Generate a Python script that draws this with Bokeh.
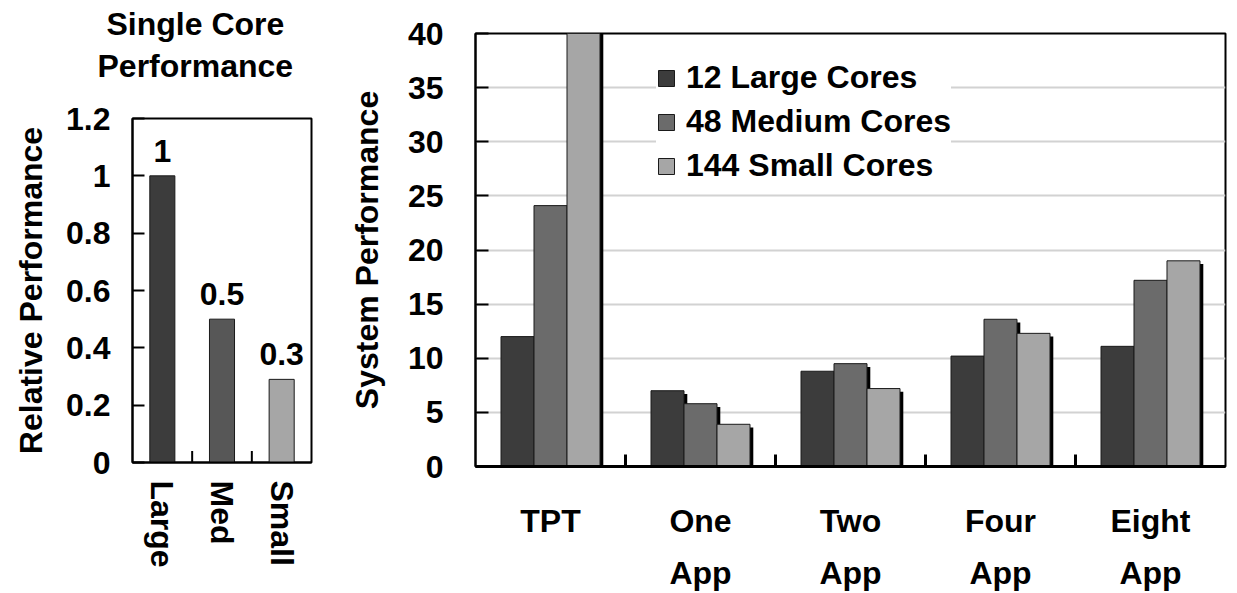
from bokeh.plotting import figure
from bokeh.layouts import row
from bokeh.models import (ColumnDataSource, FactorRange, Range1d, FixedTicker,
                          Title, Legend, LegendItem)
from bokeh.transform import dodge
from bokeh.core.properties import value
from bokeh.embed import file_html
from bokeh.resources import INLINE

FONT = "Liberation Sans"

# ---- data: single core performance ----
single_title = ["Single Core", "Performance"]
single_cores = ["Large", "Med", "Small"]
single_perf = [1.0, 0.5, 0.29]
single_perf_labels = ["1", "0.5", "0.3"]
single_colors = ["#3c3c3c", "#575757", "#a6a6a6"]
single_ticks = [0, 0.2, 0.4, 0.6, 0.8, 1.0, 1.2]
single_tick_labels = ["0", "0.2", "0.4", "0.6", "0.8", "1", "1.2"]

# ---- data: system performance ----
workloads = ["TPT", "One\nApp", "Two\nApp", "Four\nApp", "Eight\nApp"]
large_cores = [12.0, 7.0, 8.8, 10.2, 11.1]
medium_cores = [24.1, 5.8, 9.5, 13.6, 17.2]
small_cores = [40.5, 3.9, 7.2, 12.3, 19.0]
series_names = ["12 Large Cores", "48 Medium Cores", "144 Small Cores"]
series_colors = ["#3c3c3c", "#6b6b6b", "#a6a6a6"]
system_ticks = [0, 5, 10, 15, 20, 25, 30, 35, 40]


def style_axis(ax, size="32px"):
    ax.major_label_text_font = FONT
    ax.major_label_text_font_size = size
    ax.major_label_text_font_style = "bold"
    ax.major_label_text_color = "black"
    ax.axis_label_text_font = FONT
    ax.axis_label_text_font_size = size
    ax.axis_label_text_font_style = "bold"
    ax.axis_label_text_color = "black"
    ax.minor_tick_line_color = None
    ax.axis_line_color = "black"
    ax.axis_line_width = 2


# ================= left figure =================
p1 = figure(width=338, height=593,
            x_range=FactorRange(factors=single_cores, range_padding=0),
            y_range=Range1d(0, 1.2),
            output_backend="svg", toolbar_location=None,
            min_border_left=132, min_border_right=27,
            min_border_top=118, min_border_bottom=131)
p1.frame_align = False
p1.outline_line_color = "black"
p1.outline_line_width = 2
p1.outline_line_alpha = 1
p1.grid.visible = False
p1.background_fill_color = "white"
p1.border_fill_color = "white"

src1 = ColumnDataSource(dict(core=single_cores, perf=single_perf,
                             label=single_perf_labels, color=single_colors))
p1.vbar(x="core", top="perf", width=0.42, source=src1,
        fill_color="color", line_color="#1a1a1a", line_width=1)
p1.text(x="core", y="perf", text="label", source=src1,
        text_align="center", text_baseline="alphabetic", y_offset=-25,
        text_font=value(FONT), text_font_size="32px",
        text_font_style="bold", text_color="black")

sep1 = ColumnDataSource(dict(x=single_cores[:-1],
                             y0=[0] * (len(single_cores) - 1),
                             y1=[0.04] * (len(single_cores) - 1)))
p1.segment(x0=dodge("x", 0.5, range=p1.x_range), y0="y0",
           x1=dodge("x", 0.5, range=p1.x_range), y1="y1",
           source=sep1, line_color="black", line_width=2)

style_axis(p1.yaxis[0])
style_axis(p1.xaxis[0])
p1.yaxis.ticker = FixedTicker(ticks=single_ticks)
p1.yaxis.major_label_overrides = dict(zip(single_ticks, single_tick_labels))
p1.yaxis.major_tick_in = 12
p1.yaxis.major_tick_out = 0
p1.yaxis.major_tick_line_width = 2
p1.yaxis.major_label_standoff = 22
p1.yaxis.axis_label = "Relative Performance"
p1.yaxis.axis_label_standoff = 14
p1.xaxis.major_tick_line_color = None
p1.xaxis.major_label_orientation = "vertical"
p1.xaxis.major_label_standoff = 12

# two-line title: an invisible spacer title, then the two text lines
p1.add_layout(Title(text=" ", text_font_size="1px", standoff=30), "above")
p1.add_layout(Title(text=single_title[1], align="left", offset=-35,
                    text_font=FONT, text_font_size="32px",
                    text_font_style="bold", text_color="black",
                    standoff=4), "above")
p1.add_layout(Title(text=single_title[0], align="left", offset=-26,
                    text_font=FONT, text_font_size="32px",
                    text_font_style="bold", text_color="black",
                    standoff=4), "above")

# ================= right figure =================
p2 = figure(width=899, height=593,
            x_range=FactorRange(factors=workloads, range_padding=0),
            y_range=Range1d(0, 40),
            output_backend="svg", toolbar_location=None,
            min_border_left=137, min_border_right=12,
            min_border_top=33, min_border_bottom=126)
p2.frame_align = False
p2.outline_line_color = "black"
p2.outline_line_width = 2
p2.outline_line_alpha = 1
p2.xgrid.visible = False
p2.ygrid.grid_line_color = "#d2d2d2"
p2.ygrid.grid_line_width = 2
p2.ygrid.ticker = FixedTicker(ticks=system_ticks)
p2.background_fill_color = "white"
p2.border_fill_color = "white"

src2 = ColumnDataSource(dict(w=workloads, large=large_cores,
                             medium=medium_cores, small=small_cores,
                             large_s=[v - 0.3 for v in large_cores],
                             medium_s=[v - 0.3 for v in medium_cores],
                             small_s=[v - 0.3 for v in small_cores]))
bw = 0.22
offsets = [-bw, 0.0, bw]
cols = ["large", "medium", "small"]
renderers = []
for off, col in zip(offsets, cols):
    p2.vbar(x=dodge("w", off + 0.022, range=p2.x_range), top=col + "_s",
            width=bw, source=src2, fill_color="black", line_color=None)
for off, col, color in zip(offsets, cols, series_colors):
    r = p2.vbar(x=dodge("w", off, range=p2.x_range), top=col, width=bw,
                source=src2, fill_color=color, line_color="#1a1a1a",
                line_width=1)
    renderers.append(r)

sep2 = ColumnDataSource(dict(x=workloads[:-1],
                             y0=[0] * (len(workloads) - 1),
                             y1=[1.1] * (len(workloads) - 1)))
p2.segment(x0=dodge("x", 0.5, range=p2.x_range), y0="y0",
           x1=dodge("x", 0.5, range=p2.x_range), y1="y1",
           source=sep2, line_color="black", line_width=3)

style_axis(p2.yaxis[0])
style_axis(p2.xaxis[0])
p2.yaxis.ticker = FixedTicker(ticks=system_ticks)
p2.yaxis.major_tick_in = 13
p2.yaxis.major_tick_out = 0
p2.yaxis.major_tick_line_width = 2
p2.yaxis.major_label_standoff = 32
p2.yaxis.axis_label = "System Performance"
p2.yaxis.axis_label_standoff = 20
p2.xaxis.major_tick_line_color = None
p2.xaxis.major_label_standoff = 30
p2.xaxis.major_label_text_line_height = 1.45
p2.xaxis.axis_line_width = 3

legend = Legend(items=[LegendItem(label=n, renderers=[r])
                       for n, r in zip(series_names, renderers)],
                location=(181, 282))
legend.label_text_font = FONT
legend.label_text_font_size = "32px"
legend.label_text_font_style = "bold"
legend.label_text_color = "black"
legend.glyph_width = 20
legend.glyph_height = 20
legend.label_standoff = 10
legend.padding = 10
legend.spacing = 7
legend.margin = 0
legend.border_line_color = None
legend.background_fill_color = "white"
legend.background_fill_alpha = 1
p2.add_layout(legend)

layout = row(p1, p2)
open("out.html", "w").write(file_html(layout, INLINE))
